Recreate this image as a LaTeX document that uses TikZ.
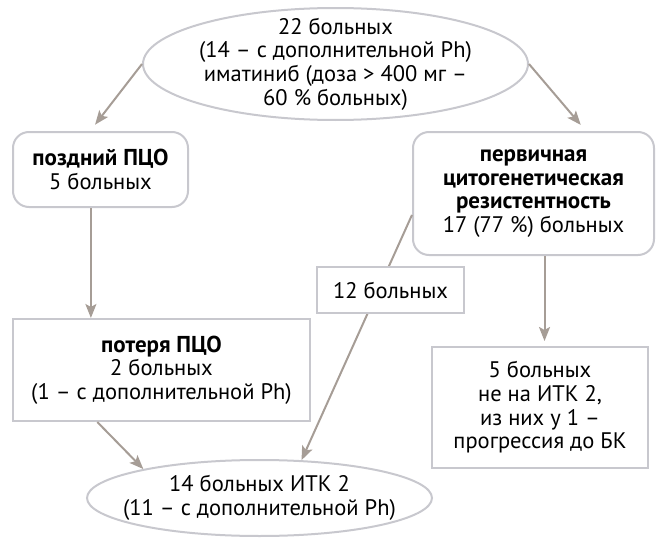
\documentclass[tikz,border=0pt]{standalone}
\usepackage{fontspec}
\setmainfont{PT Sans}
\usetikzlibrary{shapes.geometric,arrows.meta}
\definecolor{bgray}{RGB}{200,200,206}
\definecolor{agray}{RGB}{166,157,150}
\newcommand{\bh}[1]{{\fontsize{23}{24}\selectfont\bfseries #1}}
\begin{document}
\begin{tikzpicture}[x=1pt,y=-1pt,
  base/.style={font=\fontsize{22.5}{23.7}\selectfont, align=center, inner sep=0pt, draw=bgray, line width=2pt, fill=white},
  oval/.style={base, ellipse, inner xsep=-60pt, inner ysep=-30pt},
  rbox/.style={base, rectangle, rounded corners=16pt},
  sbox/.style={base, rectangle},
  conn/.style={draw=agray, line width=2pt, -{Stealth[length=14pt,width=11pt,inset=3pt]}}]
\useasboundingbox (0,0) rectangle (657,538);
\node[oval, minimum width=385pt, minimum height=112pt] (top) at (335.5,64)
  {22 больных\\(14 – с дополнительной Ph)\\иматиниб (доза > 400 мг –\\60 \% больных)};
\node[rbox, minimum width=175pt, minimum height=75pt] (left) at (100.5,169.5)
  {\bh{поздний ПЦО}\\5 больных};
\node[rbox, minimum width=241pt, minimum height=123pt] (right) at (533.5,193.5)
  {\bh{первичная}\\\bh{цитогенетическая}\\\bh{резистентность}\\17 (77 \%) больных};
\node[sbox, minimum width=297pt, minimum height=102pt] (loss) at (161.5,370)
  {\bh{потеря ПЦО}\\2 больных\\(1 – с дополнительной Ph)};
\node[sbox, minimum width=216pt, minimum height=121pt] (five) at (540,407.5)
  {5 больных\\не на ИТК 2,\\из них у 1 –\\прогрессия до БК};
\node[oval, minimum width=345pt, minimum height=76pt] (bottom) at (259.5,498)
  {14 больных ИТК 2\\(11 – с дополнительной Ph)};
\draw[conn, shorten >=8pt] (top.west) -- (left.105);
\draw[conn, shorten >=8pt] (top.east) -- (right.50);
\draw[conn] (left.256) -- (left.256 |- loss.north);
\draw[conn, shorten >=5pt] (right.280) -- (right.280 |- five.north);
\draw[conn] (loss.219) -- (bottom.166);
\draw[conn] (right.190) -- (bottom.42);
\node[sbox, minimum width=147pt, minimum height=46pt] (twelve) at (390.5,290) {12 больных};
\end{tikzpicture}
\end{document}
